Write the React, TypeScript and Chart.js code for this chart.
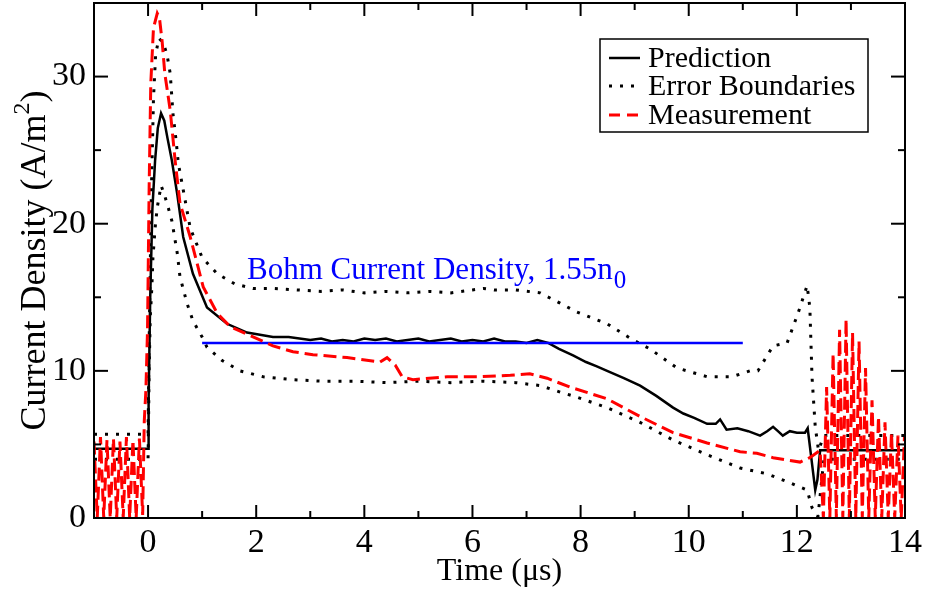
import React, { useEffect, useRef } from 'react';
import { Chart, registerables } from 'chart.js';

Chart.register(...registerables);

const FONT = '"Liberation Serif", "Times New Roman", serif';

// ---------- data ----------
const xTickValues = [0, 2, 4, 6, 8, 10, 12, 14];
const xMinorTickValues = [1, 3, 5, 7, 9, 11, 13];
const yTickValues = [0, 10, 20, 30];
const yMinorTickValues = [5, 15, 25];

const seriesNames = ['Prediction', 'Error Boundaries', 'Measurement'];
const bohmLabel = 'Bohm Current Density, 1.55n';
const bohmSub = '0';
const xTitle = 'Time (\u03bcs)';
const yTitle = 'Current Density (A/m';
const yTitleSup = '2';

const predT = [-1, 0, 0.01, 0.04, 0.08, 0.13, 0.18, 0.24, 0.3, 0.36, 0.44, 0.54, 0.65, 0.83, 1.09, 1.46, 1.83, 2.31, 2.6, 2.8, 3.0, 3.2, 3.4, 3.6, 3.8, 4.0, 4.2, 4.4, 4.6, 4.8, 5.0, 5.2, 5.4, 5.6, 5.8, 6.0, 6.2, 6.4, 6.6, 6.8, 7.0, 7.2, 7.4, 7.6, 7.86, 8.1, 8.3, 8.49, 8.8, 9.1, 9.4, 9.71, 9.9, 10.1, 10.34, 10.5, 10.58, 10.7, 10.9, 11.1, 11.32, 11.45, 11.56, 11.65, 11.74, 11.87, 12.0, 12.15, 12.2, 12.27, 12.34, 12.38, 12.43, 14];
const predV = [4.7, 4.7, 8, 15, 21, 24.3, 26.5, 27.5, 27, 25.8, 24.3, 22, 19.1, 16.6, 14.3, 13.2, 12.6, 12.3, 12.3, 12.2, 12.1, 12.2, 12.0, 12.1, 12.0, 12.2, 12.1, 12.2, 12.0, 12.1, 12.2, 12.0, 12.1, 12.2, 12.0, 12.1, 12.0, 12.2, 12.0, 12.0, 11.9, 12.1, 11.9, 11.5, 11.05, 10.6, 10.3, 10.0, 9.5, 9.0, 8.3, 7.5, 7.1, 6.8, 6.4, 6.4, 6.7, 6.0, 6.1, 5.9, 5.6, 5.9, 6.2, 5.9, 5.6, 5.9, 5.8, 5.8, 6.1, 4.0, 1.9, 2.6, 4.6, 4.6];

const upperT = [-1, 0, 0.02, 0.06, 0.1, 0.14, 0.2, 0.28, 0.35, 0.41, 0.46, 0.52, 0.56, 0.63, 0.78, 1.0, 1.28, 1.61, 1.94, 2.31, 2.76, 3.2, 3.6, 4.0, 4.4, 4.8, 5.2, 5.6, 6.0, 6.2, 6.4, 6.8, 7.25, 7.62, 7.93, 8.49, 8.97, 9.28, 9.78, 10.34, 10.8, 11.13, 11.28, 11.56, 11.82, 12.02, 12.19, 12.24, 12.28, 12.34, 12.4, 12.5, 14];
const upperV = [5.7, 5.7, 12, 22, 28.5, 31.5, 32.6, 32.3, 31.5, 30.2, 27.5, 25.6, 24.1, 22.7, 19.7, 17.7, 16.6, 15.9, 15.6, 15.6, 15.5, 15.4, 15.5, 15.3, 15.4, 15.3, 15.4, 15.3, 15.5, 15.6, 15.5, 15.5, 15.3, 14.6, 14.0, 13.2, 12.1, 11.5, 10.2, 9.6, 9.6, 10.0, 10.0, 11.7, 11.9, 13.9, 15.8, 14.3, 9.6, 6.2, 4.6, 5.6, 5.6];

const lowerT = [-1, 0, 0.02, 0.04, 0.07, 0.09, 0.13, 0.17, 0.24, 0.3, 0.38, 0.44, 0.54, 0.59, 0.72, 0.83, 1.0, 1.09, 1.37, 1.7, 2.13, 2.68, 3.2, 3.8, 4.4, 5.0, 5.6, 6.2, 6.8, 7.25, 7.67, 7.86, 8.49, 9.1, 9.71, 10.34, 10.95, 11.45, 11.87, 12.19, 12.28, 12.39, 12.5, 14];
const lowerV = [4.0, 4.0, 10, 13.6, 15.7, 17.7, 19.7, 21.1, 22.6, 22.0, 21.0, 20.2, 18.0, 16.4, 14.6, 13.4, 12.3, 11.6, 10.7, 10.0, 9.6, 9.4, 9.3, 9.3, 9.2, 9.3, 9.2, 9.3, 9.2, 9.0, 8.5, 8.3, 7.5, 6.5, 5.3, 4.3, 3.4, 3.0, 2.4, 1.9, 0.7, 0.1, 4.0, 4.0];

const measT = [-1.0, -0.94, -0.88, -0.82, -0.76, -0.7, -0.64, -0.58, -0.52, -0.46, -0.4, -0.34, -0.28, -0.22, -0.16, -0.1, -0.07, -0.04, -0.01, 0.02, 0.05, 0.1, 0.17, 0.21, 0.26, 0.31, 0.41, 0.5, 0.59, 0.78, 1.02, 1.28, 1.52, 1.89, 2.31, 2.68, 3.05, 3.68, 4.29, 4.42, 4.57, 4.7, 4.9, 5.53, 6.14, 6.7, 7.06, 7.38, 7.8, 8.49, 9.1, 9.71, 10.34, 10.95, 11.26, 11.56, 12.06, 12.24, 12.43, 12.49, 12.55, 12.61, 12.67, 12.73, 12.79, 12.85, 12.91, 12.97, 13.03, 13.09, 13.15, 13.21, 13.27, 13.33, 13.39, 13.45, 13.51, 13.57, 13.63, 13.69, 13.75, 13.81, 13.87, 13.93, 13.99];
const measV = [5.2, 0, 5.5, 0, 5.3, 0, 5.4, 0, 5.2, 0, 5.5, 0, 5.3, 0, 5.4, 0.2, 6.6, 8.7, 12.8, 22.5, 29.5, 33.3, 34.3, 34.0, 32.4, 30.2, 27.7, 24.3, 21.4, 19.1, 15.7, 13.9, 13.0, 12.4, 11.7, 11.3, 11.1, 10.9, 10.6, 10.9, 10.4, 9.6, 9.4, 9.6, 9.6, 9.7, 9.8, 9.5, 8.9, 8.1, 6.9, 5.8, 5.1, 4.5, 4.4, 4.1, 3.8, 4.1, 4.6, 0, 8.9, 0, 11.2, 0, 12.8, 0, 13.5, 0, 12.6, 0, 12.0, 0, 10.2, 0, 8.0, 0, 6.9, 0, 6.5, 0, 5.8, 0, 5.6, 0, 5.5];

const bohmT = [1.0, 11.0];
const bohmV = [11.9, 11.9];

const X_MIN = -1, X_MAX = 14, Y_MIN = 0, Y_MAX = 35;

// ---------- layout ----------
const W = 925, H = 590;
const PLOT = { left: 94, right: 905, top: 3, bottom: 518 };
const TICK_FONT = 34;

const pts = (t: number[], v: number[]) => t.map((x, i) => ({ x, y: v[i] }));

const decorPlugin = {
  id: 'decor',
  afterDraw(chart: any) {
    const ctx: CanvasRenderingContext2D = chart.ctx;
    const { left, right, top, bottom } = chart.chartArea;
    const xs = chart.scales.x, ys = chart.scales.y;
    ctx.save();
    ctx.strokeStyle = '#000';
    ctx.lineWidth = 2;
    ctx.strokeRect(left, top, right - left, bottom - top);
    const tick = (x1: number, y1: number, x2: number, y2: number) => {
      ctx.beginPath(); ctx.moveTo(x1, y1); ctx.lineTo(x2, y2); ctx.stroke();
    };
    xTickValues.forEach(v => { const px = xs.getPixelForValue(v); tick(px, bottom, px, bottom - 13); tick(px, top, px, top + 13); });
    xMinorTickValues.forEach(v => { const px = xs.getPixelForValue(v); tick(px, bottom, px, bottom - 7); tick(px, top, px, top + 7); });
    yTickValues.forEach(v => { const py = ys.getPixelForValue(v); tick(left, py, left + 14, py); tick(right, py, right - 14, py); });
    yMinorTickValues.forEach(v => { const py = ys.getPixelForValue(v); tick(left, py, left + 7, py); tick(right, py, right - 7, py); });

    // x title
    ctx.fillStyle = '#000';
    ctx.font = `32px ${FONT}`;
    ctx.textAlign = 'center';
    ctx.textBaseline = 'alphabetic';
    ctx.fillText(xTitle, (left + right) / 2, 580);

    // y title
    ctx.save();
    ctx.translate(45, (top + bottom) / 2);
    ctx.rotate(-Math.PI / 2);
    const F1 = 36, F2 = 24;
    ctx.font = `${F1}px ${FONT}`;
    const w1 = ctx.measureText(yTitle).width;
    ctx.font = `${F2}px ${FONT}`;
    const w2 = ctx.measureText(yTitleSup).width;
    ctx.font = `${F1}px ${FONT}`;
    const w3 = ctx.measureText(')').width;
    const tot = w1 + w2 + w3;
    ctx.textAlign = 'left';
    let cx = -tot / 2;
    ctx.fillText(yTitle, cx, 0); cx += w1;
    ctx.font = `${F2}px ${FONT}`;
    ctx.fillText(yTitleSup, cx, -16); cx += w2;
    ctx.font = `${F1}px ${FONT}`;
    ctx.fillText(')', cx, 0);
    ctx.restore();

    // Bohm label
    ctx.fillStyle = '#0000ff';
    ctx.font = `31px ${FONT}`;
    ctx.textAlign = 'left';
    const bx = 247, by = 279;
    ctx.fillText(bohmLabel, bx, by);
    const bw = ctx.measureText(bohmLabel).width;
    ctx.font = `25px ${FONT}`;
    ctx.fillText(bohmSub, bx + bw + 1, by + 9);

    // legend
    const lx0 = 600, ly0 = 39, lx1 = 868, ly1 = 132;
    ctx.fillStyle = '#fff';
    ctx.fillRect(lx0, ly0, lx1 - lx0, ly1 - ly0);
    ctx.strokeStyle = '#000';
    ctx.lineWidth = 1.5;
    ctx.strokeRect(lx0, ly0, lx1 - lx0, ly1 - ly0);
    const rows = [58, 86, 115];
    const styles = [
      { color: '#000', dash: [] as number[], w: 2.5 },
      { color: '#000', dash: [3, 8], w: 3 },
      { color: '#ff0000', dash: [11, 7], w: 3 },
    ];
    rows.forEach((ry, i) => {
      ctx.strokeStyle = styles[i].color;
      ctx.lineWidth = styles[i].w;
      ctx.setLineDash(styles[i].dash);
      ctx.beginPath(); ctx.moveTo(609, ry); ctx.lineTo(640, ry); ctx.stroke();
      ctx.setLineDash([]);
      ctx.fillStyle = '#000';
      ctx.font = `30px ${FONT}`;
      ctx.textAlign = 'left';
      ctx.textBaseline = 'middle';
      ctx.fillText(seriesNames[i], 648, ry + 1);
    });
    ctx.restore();
  },
};

export default function App() {
  const ref = useRef<HTMLCanvasElement>(null);
  useEffect(() => {
    if (!ref.current) return;
    const chart = new Chart(ref.current, {
      type: 'line',
      data: {
        datasets: [
          { label: 'Measurement', data: pts(measT, measV), borderColor: '#ff0000', borderWidth: 3, borderDash: [13, 6], pointRadius: 0, tension: 0, fill: false },
          { label: 'Bohm', data: pts(bohmT, bohmV), borderColor: '#0000ff', borderWidth: 2.5, pointRadius: 0, tension: 0, fill: false },
          { label: 'Prediction', data: pts(predT, predV), borderColor: '#000', borderWidth: 2.5, pointRadius: 0, tension: 0, fill: false },
          { label: 'Upper', data: pts(upperT, upperV), borderColor: '#000', borderWidth: 3, borderDash: [3, 8], borderCapStyle: 'butt', pointRadius: 0, tension: 0, fill: false },
          { label: 'Lower', data: pts(lowerT, lowerV), borderColor: '#000', borderWidth: 3, borderDash: [3, 8], borderCapStyle: 'butt', pointRadius: 0, tension: 0, fill: false },
        ],
      },
      options: {
        animation: false,
        responsive: false,
        devicePixelRatio: 1,
        parsing: false,
        layout: { padding: { top: PLOT.top, right: W - PLOT.right, left: 0, bottom: 0 } },
        plugins: { legend: { display: false }, tooltip: { enabled: false } },
        scales: {
          x: {
            type: 'linear', min: X_MIN, max: X_MAX,
            grid: { display: false, drawTicks: false, tickLength: 0 },
            border: { display: false },
            ticks: { font: { family: FONT, size: TICK_FONT }, color: '#000', padding: 5, maxRotation: 0, autoSkip: false },
            afterBuildTicks: (s: any) => { s.ticks = xTickValues.map(v => ({ value: v })); },
            afterFit: (s: any) => { s.height = H - PLOT.bottom; s.paddingLeft = 0; s.paddingRight = 0; },
          },
          y: {
            type: 'linear', min: Y_MIN, max: Y_MAX,
            grid: { display: false, drawTicks: false, tickLength: 0 },
            border: { display: false },
            ticks: { font: { family: FONT, size: TICK_FONT }, color: '#000', padding: 8 },
            afterBuildTicks: (s: any) => { s.ticks = yTickValues.map(v => ({ value: v })); },
            afterFit: (s: any) => { s.width = PLOT.left; s.paddingTop = 0; s.paddingBottom = 0; },
          },
        },
      } as any,
      plugins: [decorPlugin],
    });
    return () => chart.destroy();
  }, []);
  return (
    <div style={{ position: 'absolute', left: 0, top: 0, width: W, height: H, background: '#fff' }}>
      <canvas ref={ref} width={W} height={H} style={{ width: W, height: H, display: 'block' }} />
    </div>
  );
}
